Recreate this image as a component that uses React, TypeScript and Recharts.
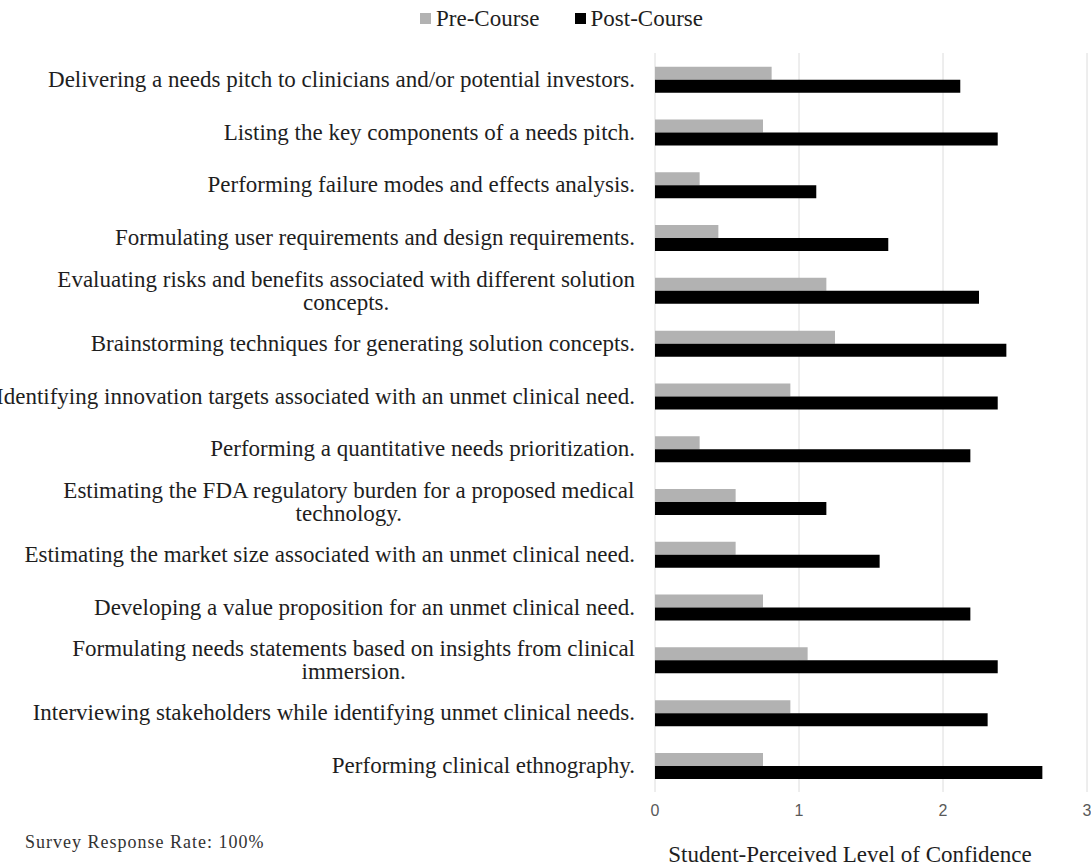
import React from "react";
import {
  BarChart,
  Bar,
  XAxis,
  YAxis,
  CartesianGrid,
  Legend,
} from "recharts";

const skills = [
  "Delivering a needs pitch to clinicians and/or potential investors.",
  "Listing the key components of a needs pitch.",
  "Performing failure modes and effects analysis.",
  "Formulating user requirements and design requirements.",
  "Evaluating risks and benefits associated with different solution\nconcepts.",
  "Brainstorming techniques for generating solution concepts.",
  "Identifying innovation targets associated with an unmet clinical need.",
  "Performing a quantitative needs prioritization.",
  "Estimating the FDA regulatory burden for a proposed medical\ntechnology.",
  "Estimating the market size associated with an unmet clinical need.",
  "Developing a value proposition for an unmet clinical need.",
  "Formulating needs statements based on insights from clinical\nimmersion.",
  "Interviewing stakeholders while identifying unmet clinical needs.",
  "Performing clinical ethnography.",
];

const preCourse = [0.81, 0.75, 0.31, 0.44, 1.19, 1.25, 0.94, 0.31, 0.56, 0.56, 0.75, 1.06, 0.94, 0.75];
const postCourse = [2.12, 2.38, 1.12, 1.62, 2.25, 2.44, 2.38, 2.19, 1.19, 1.56, 2.19, 2.38, 2.31, 2.69];

const xTicks = [0, 1, 2, 3];

const data = skills.map((skill, i) => ({
  skill,
  pre: preCourse[i],
  post: postCourse[i],
}));

const SERIF = '"Liberation Serif", "Times New Roman", serif';
const LABEL_SIZE = 23;
const PRE_COLOR = "#b2b2b2";
const POST_COLOR = "#000000";

let ctx: CanvasRenderingContext2D | null = null;
function textWidth(s: string) {
  if (!ctx) ctx = document.createElement("canvas").getContext("2d");
  if (!ctx) return s.length * 10;
  ctx.font = `${LABEL_SIZE}px ${SERIF}`;
  return ctx.measureText(s).width;
}

// excel-style category label: right aligned, wrapped lines centred under the first
function SkillTick(props: any) {
  const { x, y, payload } = props;
  const lines: string[] = String(payload.value).split("\n");
  const right = x - 12;
  if (lines.length === 1) {
    return (
      <text x={right} y={y} textAnchor="end" dominantBaseline="central"
        fontFamily={SERIF} fontSize={LABEL_SIZE} fill="#1e1e1e">
        {lines[0]}
      </text>
    );
  }
  const mid = right - textWidth(lines[0]) / 2;
  const lh = 23;
  return (
    <g>
      {lines.map((ln, i) => (
        <text key={i} x={mid} y={y + (i - (lines.length - 1) / 2) * lh}
          textAnchor="middle" dominantBaseline="central"
          fontFamily={SERIF} fontSize={LABEL_SIZE} fill="#1e1e1e">
          {ln}
        </text>
      ))}
    </g>
  );
}

function LegendBox() {
  const item = (color: string, name: string, gap: number) => (
    <span style={{ display: "inline-flex", alignItems: "center", marginRight: gap }}>
      <span style={{ width: 11, height: 11, background: color, marginRight: 5, display: "inline-block" }} />
      <span>{name}</span>
    </span>
  );
  return (
    <div style={{ fontFamily: SERIF, fontSize: 23, color: "#1e1e1e", textAlign: "center", paddingLeft: 32, lineHeight: "26px" }}>
      {item(PRE_COLOR, "Pre-Course", 35)}
      {item(POST_COLOR, "Post-Course", 0)}
    </div>
  );
}

export default function App() {
  return (
    <div style={{ position: "absolute", left: 0, top: 0, width: 1091, height: 867, overflow: "hidden", background: "#fff" }}>
      <style>{"html,body{margin:0;padding:0;overflow:hidden}"}</style>
      <BarChart
        width={1091}
        height={867}
        data={data}
        layout="vertical"
        margin={{ top: 53, right: 4, bottom: 0, left: 0 }}
        barCategoryGap="26%"
        barGap={0}
      >
        <CartesianGrid horizontal={false} stroke="#dcdcdc" />
        <XAxis
          type="number"
          domain={[0, 3]}
          ticks={xTicks}
          interval={0}
          axisLine={false}
          tickLine={false}
          height={75}
          tickMargin={7}
          tick={{ fontFamily: '"Liberation Sans", Arial, sans-serif', fontSize: 16, fill: "#595959" }}
          label={{
            value: "Student-Perceived Level of Confidence",
            position: "insideBottom",
            offset: 5,
            dx: -21,
            style: { fontFamily: SERIF, fontSize: 23, fill: "#1e1e1e" },
          }}
        />
        <YAxis
          type="category"
          dataKey="skill"
          width={655}
          axisLine={false}
          tickLine={false}
          interval={0}
          tick={<SkillTick />}
        />
        <Legend
          layout="horizontal"
          verticalAlign="middle"
          align="center"
          wrapperStyle={{ top: 4, left: 0, width: 1091 }}
          content={() => <LegendBox />}
        />
        <Bar dataKey="pre" name="Pre-Course" fill={PRE_COLOR} isAnimationActive={false} />
        <Bar dataKey="post" name="Post-Course" fill={POST_COLOR} isAnimationActive={false} />
      </BarChart>
      <div
        style={{
          position: "absolute",
          left: 25,
          top: 831,
          fontFamily: SERIF,
          fontSize: 18,
          letterSpacing: 1,
          lineHeight: "22px",
          color: "#333",
        }}
      >
        Survey Response Rate: 100%
      </div>
    </div>
  );
}
